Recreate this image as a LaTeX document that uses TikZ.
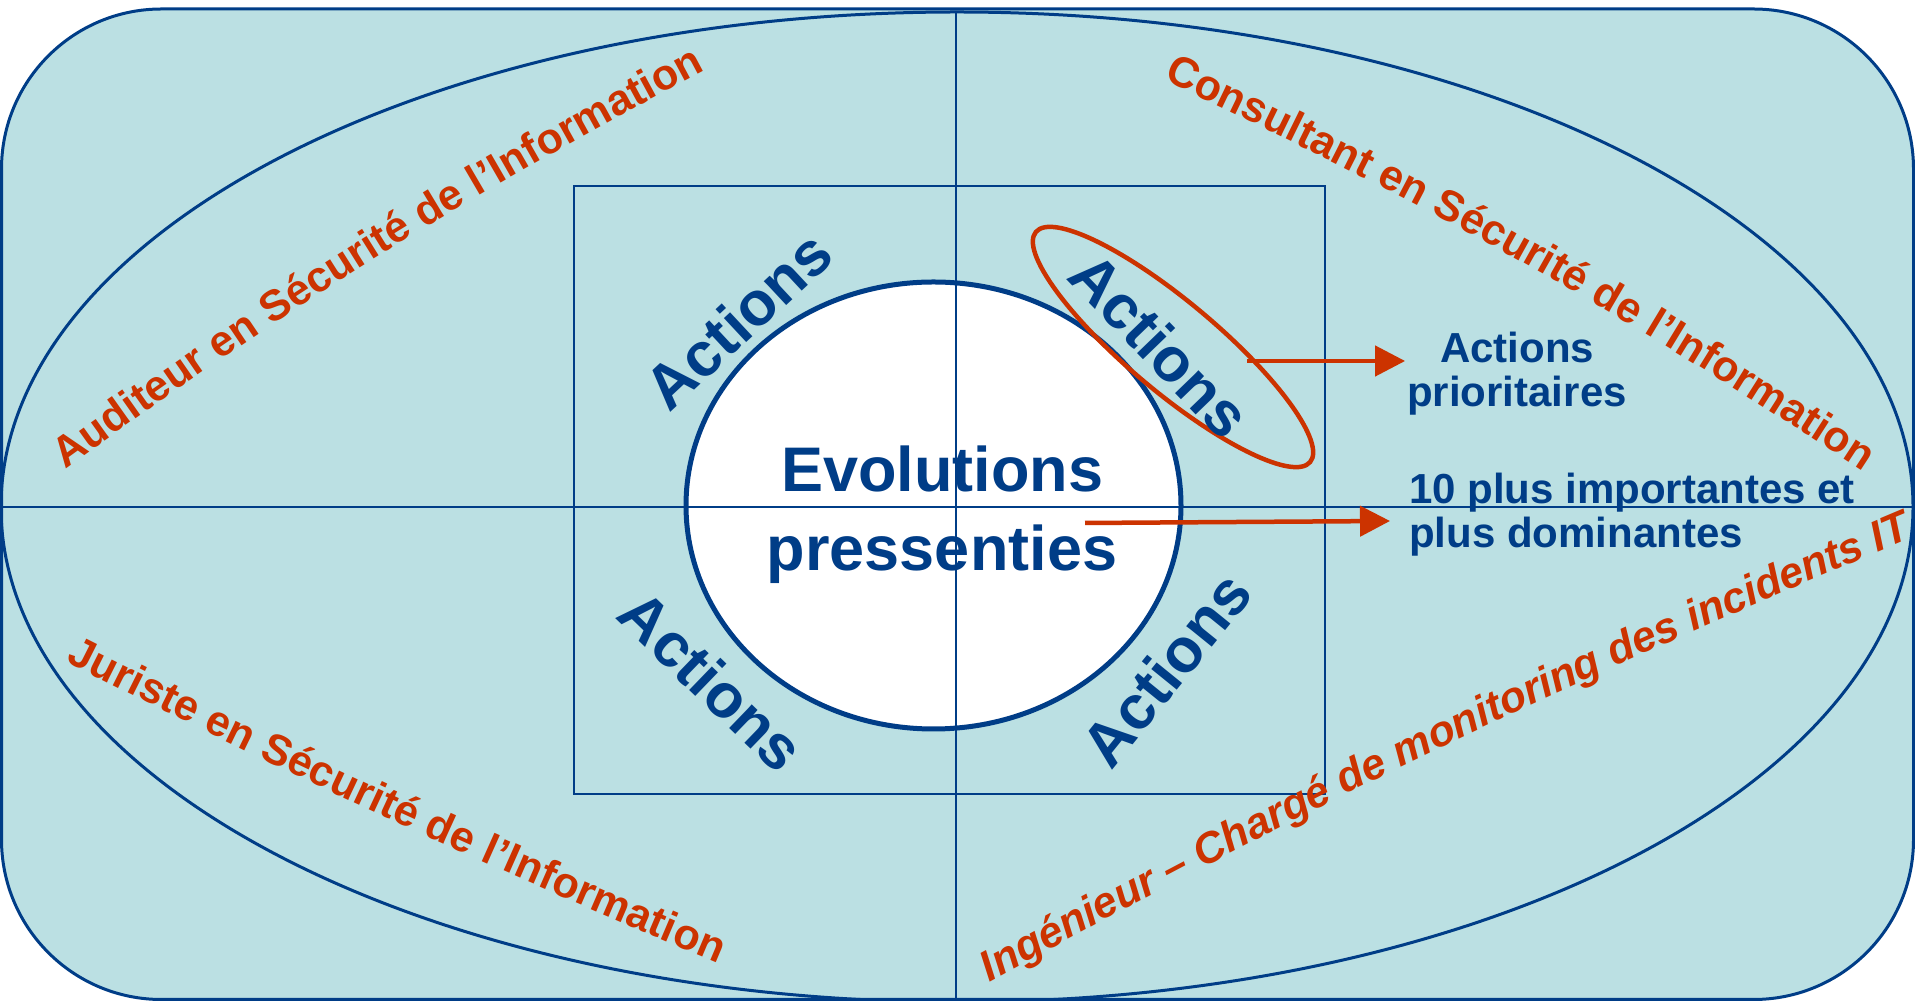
\documentclass[tikz,border=0pt]{standalone}
\usepackage{fontspec}
\setmainfont{Liberation Sans}
\usetikzlibrary{arrows.meta,decorations.text,calc}
\definecolor{bgfill}{RGB}{187,224,227}
\definecolor{dblue}{RGB}{0,61,135}
\definecolor{orng}{RGB}{204,51,0}
\newcommand\orngtxt{\fontsize{43}{50}\selectfont\bfseries\color{orng}}
\newcommand\orngit{\fontsize{43}{50}\selectfont\bfseries\itshape\color{orng}}
\begin{document}
\begin{tikzpicture}[x=1pt,y=1pt,
  frame/.style={draw=dblue,line width=3pt},
  thinline/.style={draw=dblue,line width=2.5pt},
  actlabel/.style={text=dblue,font=\fontsize{62}{70}\selectfont\bfseries,inner sep=0pt},
  bluetext/.style={text=dblue,font=\fontsize{42}{44}\selectfont\bfseries,inner sep=0pt},
  redarrow/.style={draw=orng,line width=4.5pt,-{Triangle[length=30pt,width=30pt]}}
]
\useasboundingbox (0,0) rectangle (1915,1001);
% background frame
\path[frame,fill=bgfill,rounded corners=160pt] (1.5,1.5) rectangle (1913.5,992);
% outer ellipse
\draw[draw=dblue,line width=3pt] (957,494) ellipse [x radius=956, y radius=495];
% square
\draw[thinline] (574,207) rectangle (1325,815);
% central circle
\draw[draw=dblue,line width=5pt,fill=white] (933.5,495.5) ellipse [x radius=247.5, y radius=223.5];
% axes
\draw[thinline] (0,494) -- (1915,494);
\draw[thinline] (956,989) -- (956,0);
% red highlight ellipse
\draw[orng,line width=4.5pt,rotate around={-40:(1173,654)}] (1173,654) ellipse [x radius=179, y radius=45];
% Actions labels
\node[actlabel,rotate=43] (act1) at (738,681) {Actions};
\node[actlabel,rotate=-46] (act2) at (1160,656) {Actions};
\node[actlabel,rotate=-44] (act3) at (712,320) {Actions};
\node[actlabel,rotate=51] (act4) at (1166,332) {Actions};
% central text
\node[text=dblue,font=\fontsize{63}{79}\selectfont\bfseries,align=center,inner sep=0pt] (evo) at (942,486) {Evolutions\\pressenties};
% right texts
\node[bluetext,align=center] (prio) at (1517,627) {Actions\\prioritaires};
\node[bluetext,align=left,anchor=west] (imp) at (1409,486) {10 plus importantes et\\plus dominantes};
% arrows
\coordinate (a1s) at (1247,640);
\draw[redarrow,shorten >=2pt] (a1s) -- (a1s -| prio.west);
\coordinate (a2s) at (1085,478);
\coordinate (a2e) at (1390,480);
\draw[redarrow] (a2s) -- (a2e);
% curved role labels
\coordinate (t1s) at (67,531);  \coordinate (t1e) at (705,929);
\coordinate (t2s) at (1170,916); \coordinate (t2e) at (1855,533);
\coordinate (t3s) at (70,338);  \coordinate (t3e) at (714,40);
\coordinate (t4s) at (995,20);  \coordinate (t4e) at (1908,460);
\path[decorate,decoration={text along path,text align=center,
  text={|\orngtxt|Auditeur en Sécurité de l’Information}}]
  ($(t1s)!-0.03!(t1e)$) to[bend left=4] ($(t1e)!-0.03!(t1s)$);
\path[decorate,decoration={text along path,text align=center,
  text={|\orngtxt|Consultant en Sécurité de l’Information}}]
  ($(t2s)!-0.03!(t2e)$) to[bend left=4] ($(t2e)!-0.03!(t2s)$);
\path[decorate,decoration={text along path,text align=center,
  text={|\orngtxt|Juriste en Sécurité de l’Information}}]
  ($(t3s)!-0.03!(t3e)$) to[bend right=2] ($(t3e)!-0.03!(t3s)$);
\path[decorate,decoration={text along path,text align=center,
  text={|\orngit|Ingénieur – Chargé de monitoring des incidents IT}}]
  ($(t4s)!-0.03!(t4e)$) to[bend left=3] ($(t4e)!-0.03!(t4s)$);
\end{tikzpicture}
\end{document}
